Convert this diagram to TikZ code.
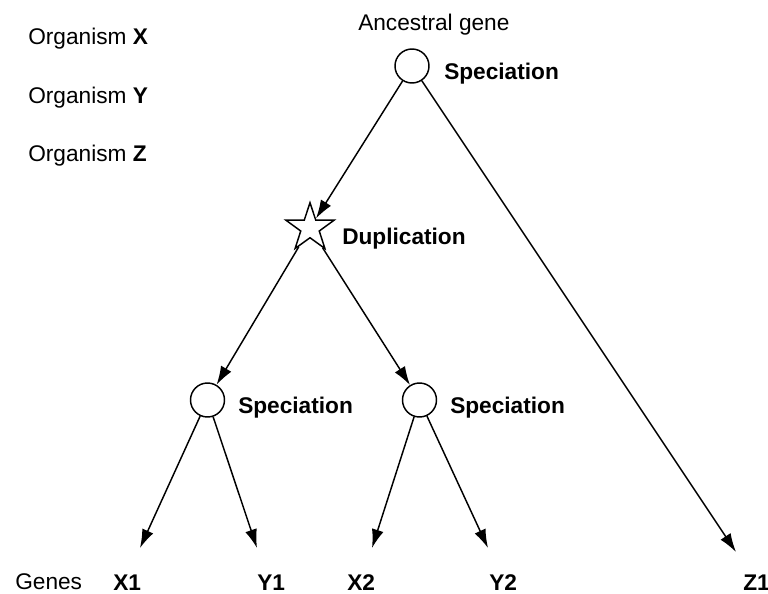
\documentclass[tikz,border=0pt]{standalone}
\usepackage{fontspec}
\setmainfont{Liberation Sans}
\usetikzlibrary{arrows.meta,shapes.geometric}

\begin{document}
\begin{tikzpicture}[x=0.75pt,y=-0.75pt,
  every node/.style={font=\fontsize{17}{20}\selectfont},
  event/.style={draw,circle,line width=1.1pt,minimum size=25.5pt,inner sep=0pt},
  dupstar/.style={draw,star,star points=5,star point ratio=2.6,line width=1.1pt,minimum size=38pt,inner sep=0pt},
  lbl/.style={anchor=base west,inner sep=0pt},
  tag/.style={lbl,font=\fontsize{17}{20}\selectfont\bfseries},
  edge/.style={line width=1.1pt,-{Latex[length=14pt,width=9pt]}}]
\useasboundingbox (0,0) rectangle (768,593);
\node[lbl] (orgx) at (28,44) {Organism \textbf{X}};
\node[lbl] (orgy) at (28,103) {Organism \textbf{Y}};
\node[lbl] (orgz) at (28,161) {Organism \textbf{Z}};
\node[lbl] (anc) at (358,30) {Ancestral gene};
\node[event] (sp1) at (412,66) {};
\node[tag] (sp1lbl) at (444,79) {Speciation};
\node[dupstar] (dup) at (310,228) {};
\node[tag] (duplbl) at (342,244) {Duplication};
\node[event] (sp2) at (207.5,400) {};
\node[tag] (sp2lbl) at (238,413) {Speciation};
\node[event] (sp3) at (419.5,400) {};
\node[tag] (sp3lbl) at (450,413) {Speciation};
\node[lbl] (genes) at (15,589) {Genes};
\node[tag] (x1) at (113,590) {X1};
\node[tag] (y1) at (257,590) {Y1};
\node[tag] (x2) at (347,590) {X2};
\node[tag] (y2) at (489,590) {Y2};
\node[tag] (z1) at (743,590) {Z1};
\coordinate (tx1) at (140,548);
\coordinate (ty1) at (257,548);
\coordinate (tx2) at (372,548);
\coordinate (ty2) at (488,548);
\coordinate (tz1) at (736,552);
\draw[edge] (sp1) -- (dup);
\draw[edge] (sp1) -- (tz1);
\draw[edge] (dup) -- (sp2);
\draw[edge] (dup) -- (sp3);
\draw[edge] (sp2) -- (tx1);
\draw[edge] (sp2) -- (ty1);
\draw[edge] (sp3) -- (tx2);
\draw[edge] (sp3) -- (ty2);
\end{tikzpicture}
\end{document}
